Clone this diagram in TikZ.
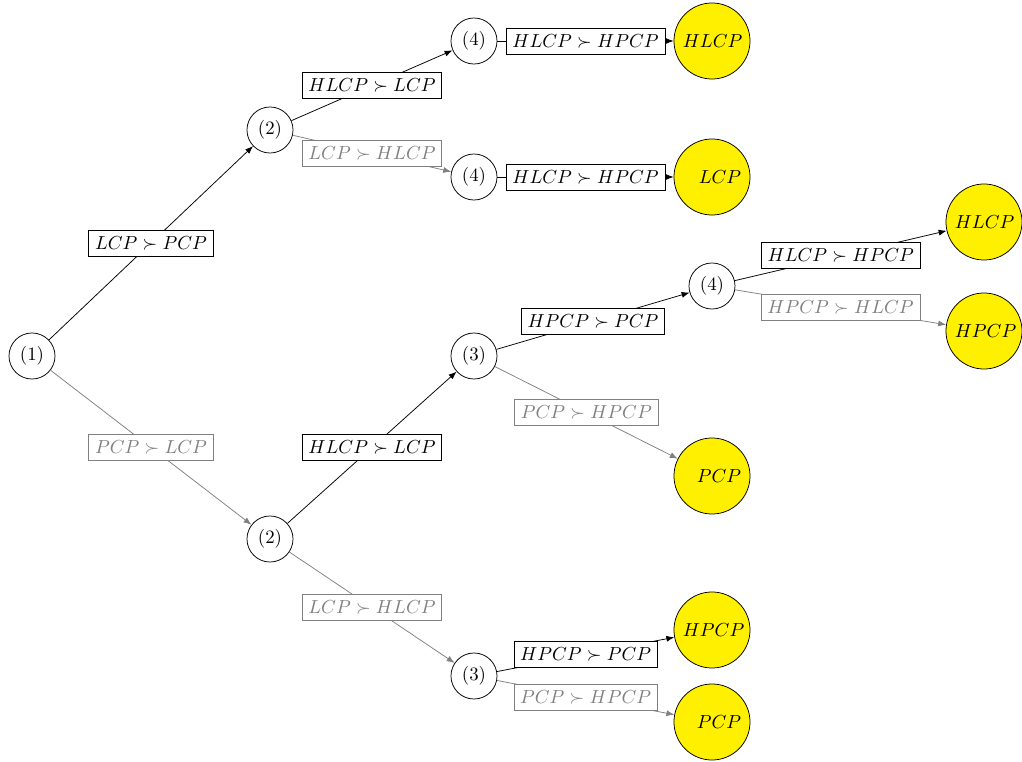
\documentclass[tikz,border=0pt]{standalone}
\usetikzlibrary{arrows.meta}
\definecolor{leafyellow}{RGB}{255,240,0}
\begin{document}
\begin{tikzpicture}[x=0.53pt,y=-0.53pt,
 st/.style={circle,draw,minimum size=24.4pt,inner sep=1pt},
 leaf/.style={circle,draw,fill=leafyellow,minimum size=40.3pt,inner sep=1pt,text width=31pt,align=right},
 yes/.style={draw=black,-{Latex[length=4.2pt,width=3.2pt]}},
 no/.style={draw=gray,-{Latex[length=4.2pt,width=3.2pt]}},
 lyes/.style={draw=black,fill=white,text=black,inner sep=3.3pt},
 lno/.style={draw=gray,fill=white,text=gray,inner sep=3.3pt}]
\useasboundingbox (0,0) rectangle (1022,762);
% states
\node[st] (n1) at (32,356) {(1)};
\node[st] (n2a) at (270,130) {(2)};
\node[st] (n2b) at (270,539) {(2)};
\node[st] (n4a) at (474,41) {(4)};
\node[st] (n4b) at (474,177) {(4)};
\node[st] (n3a) at (474,356) {(3)};
\node[st] (n3b) at (474,676) {(3)};
\node[st] (n4c) at (712,286) {(4)};
% leaves
\node[leaf] (l1) at (712,41) {$HLCP$};
\node[leaf] (l2) at (712,177) {$LCP$};
\node[leaf] (l3) at (984,222) {$HLCP$};
\node[leaf] (l4) at (984,331) {$HPCP$};
\node[leaf] (l5) at (712,476) {$PCP$};
\node[leaf] (l6) at (712,630) {$HPCP$};
\node[leaf] (l7) at (712,722) {$PCP$};
% edges
\draw[yes] (n1) -- node[lyes] {$LCP \succ PCP$} (n2a);
\draw[no] (n1) -- node[lno] {$PCP \succ LCP$} (n2b);
\draw[yes] (n2a) -- node[lyes] {$HLCP \succ LCP$} (n4a);
\draw[no] (n2a) -- node[lno] {$LCP \succ HLCP$} (n4b);
\draw[yes] (n4a) -- node[lyes] {$HLCP \succ HPCP$} (l1);
\draw[yes] (n4b) -- node[lyes] {$HLCP \succ HPCP$} (l2);
\draw[yes] (n2b) -- node[lyes] {$HLCP \succ LCP$} (n3a);
\draw[no] (n2b) -- node[lno] {$LCP \succ HLCP$} (n3b);
\draw[yes] (n3a) -- node[lyes] {$HPCP \succ PCP$} (n4c);
\draw[no] (n3a) -- node[lno] {$PCP \succ HPCP$} (l5);
\draw[yes] (n4c) -- node[lyes] {$HLCP \succ HPCP$} (l3);
\draw[no] (n4c) -- node[lno] {$HPCP \succ HLCP$} (l4);
\draw[yes] (n3b) -- node[lyes] {$HPCP \succ PCP$} (l6);
\draw[no] (n3b) -- node[lno] {$PCP \succ HPCP$} (l7);
\end{tikzpicture}
\end{document}
